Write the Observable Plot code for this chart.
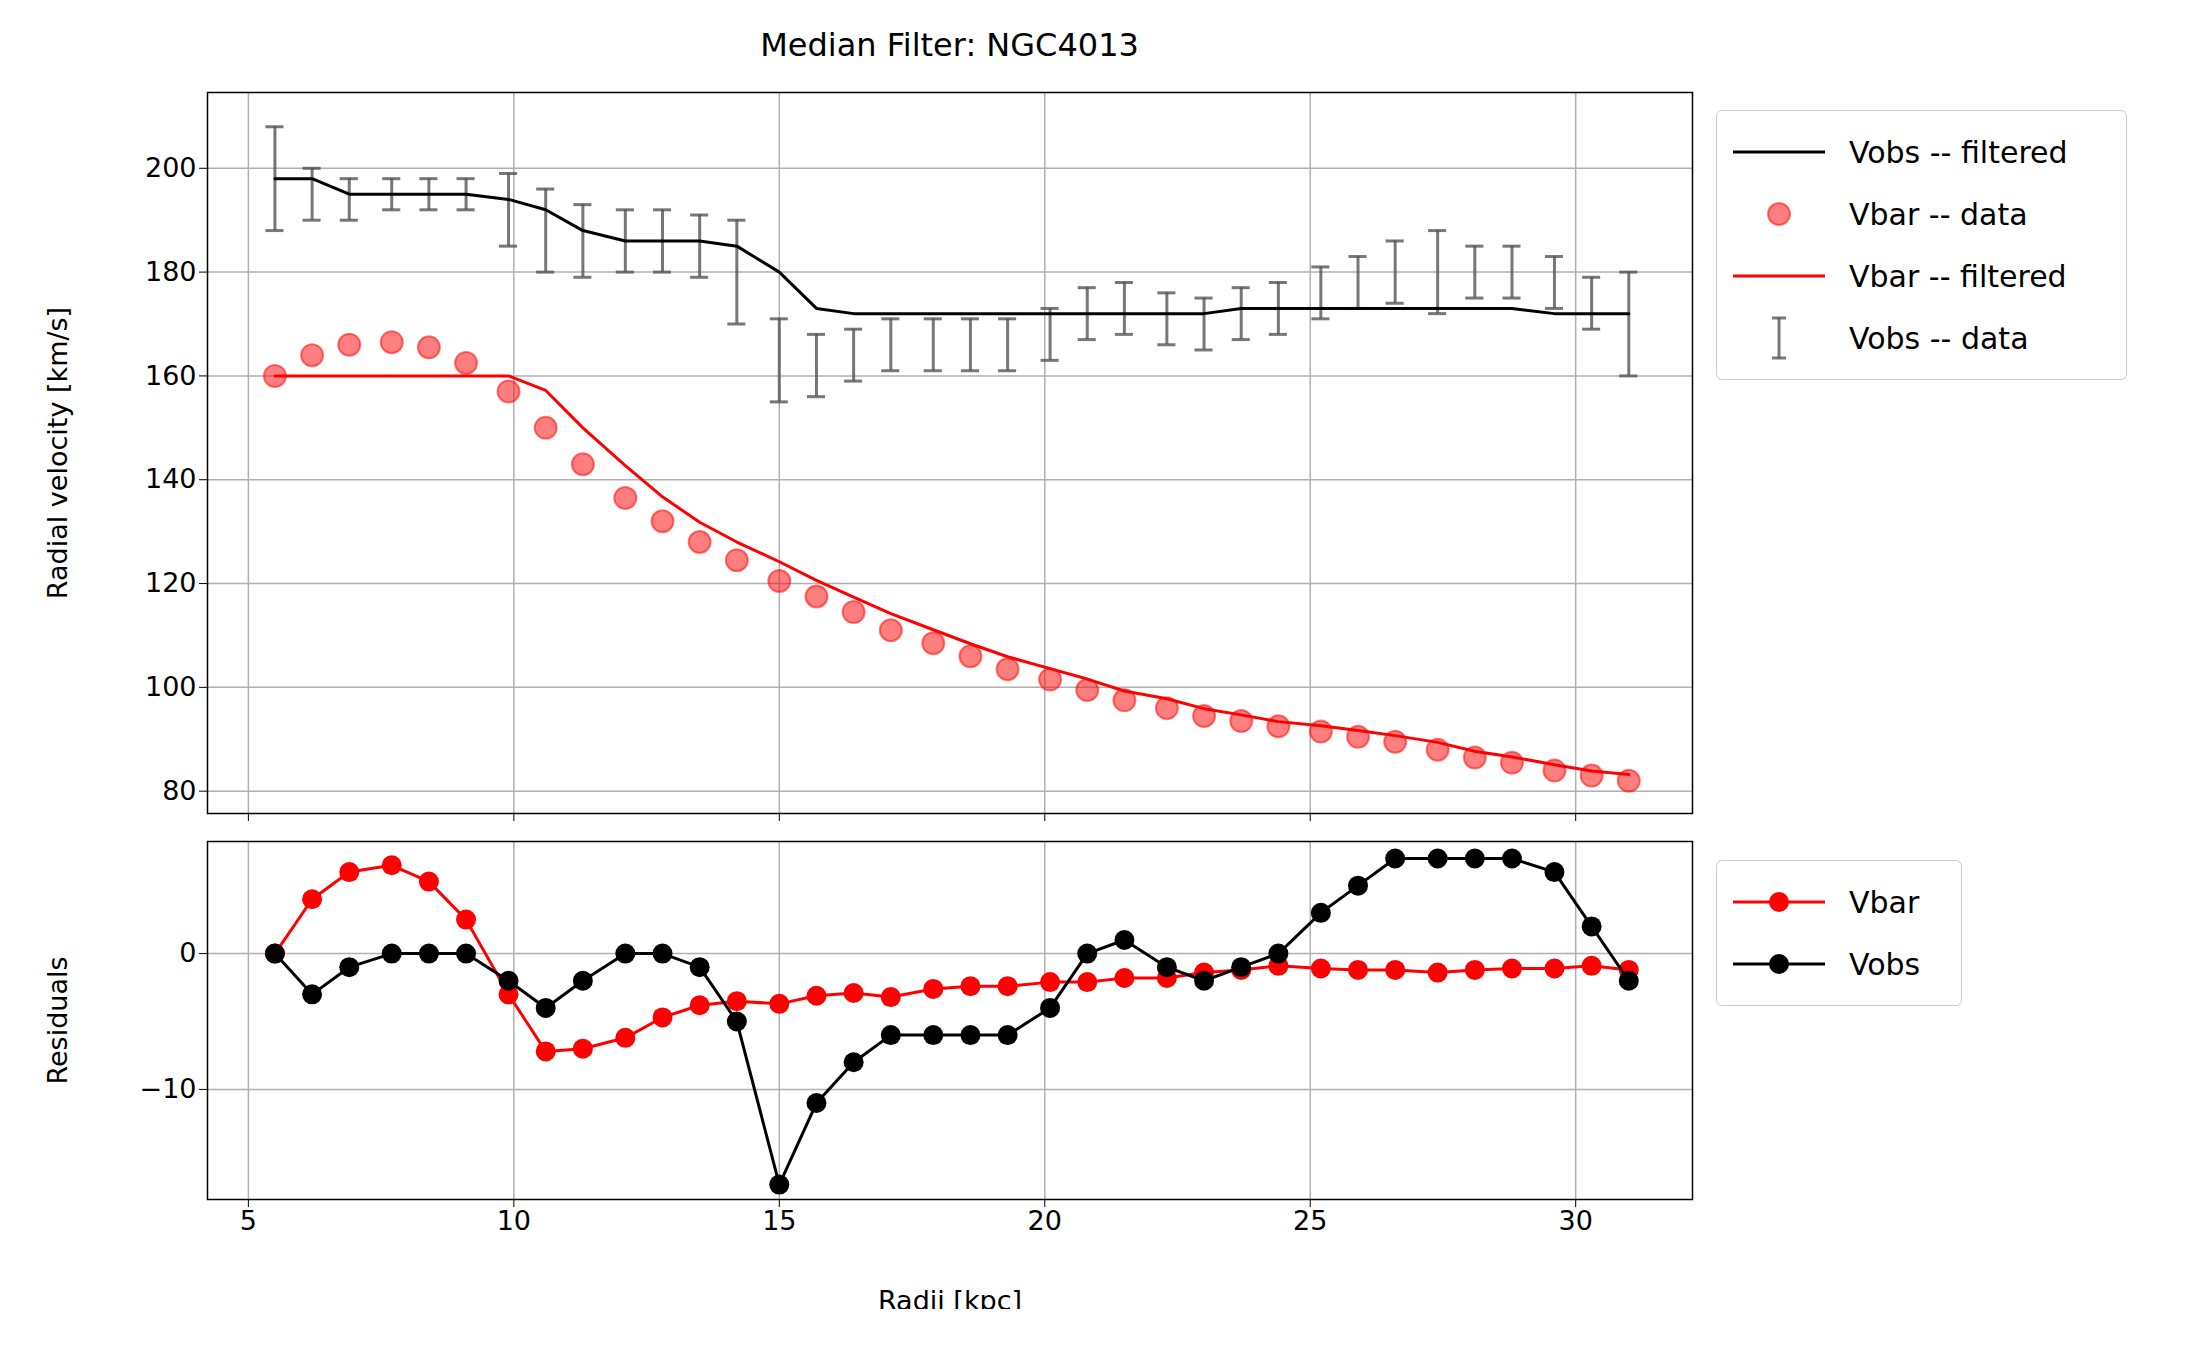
<!DOCTYPE html>
<html><head><meta charset="utf-8">
<script src="https://cdn.jsdelivr.net/npm/d3@7"></script>
<script src="https://cdn.jsdelivr.net/npm/@observablehq/plot@0.6"></script>
<style>
body{margin:0;background:#fff;font-family:"DejaVu Sans",sans-serif;}
#wrap{position:relative;width:2197px;height:1361px;}
#wrap>div.p{position:absolute;left:0;}
.title{position:absolute;left:207px;width:1485px;text-align:center;top:26px;font-size:32px;}
.leg{position:absolute;border:1.5px solid #ccc;border-radius:6px;background:#fff;font-size:30px;padding:10px 12px;}
.leg div{display:flex;align-items:center;height:62px;}
.leg svg{margin-right:20px;}
svg text{font-size:27px;}
</style></head><body>
<div id="wrap">
<div class="title">Median Filter: NGC4013</div>
<div class="p" id="top" style="top:0"></div>
<div class="p" id="bot" style="top:830px"></div>
<div class="leg" style="left:1716px;top:110px;width:385px;">
 <div><svg width="100" height="20"><line x1="4" x2="96" y1="10" y2="10" stroke="black" stroke-width="3"/></svg>Vobs -- filtered</div>
 <div><svg width="100" height="30"><circle cx="50" cy="15" r="11" fill="red" fill-opacity="0.5" stroke="red" stroke-opacity="0.5" stroke-width="2"/></svg>Vbar -- data</div>
 <div><svg width="100" height="20"><line x1="4" x2="96" y1="10" y2="10" stroke="red" stroke-width="3"/></svg>Vbar -- filtered</div>
 <div><svg width="100" height="44"><g stroke="#555" stroke-opacity="0.8" stroke-width="3"><line x1="50" x2="50" y1="2" y2="42"/><line x1="43" x2="57" y1="2" y2="2"/><line x1="43" x2="57" y1="42" y2="42"/></g></svg>Vobs -- data</div>
</div>
<div class="leg" style="left:1716px;top:860px;width:220px;">
 <div><svg width="100" height="30"><line x1="4" x2="96" y1="15" y2="15" stroke="red" stroke-width="3"/><circle cx="50" cy="15" r="10" fill="red"/></svg>Vbar</div>
 <div><svg width="100" height="30"><line x1="4" x2="96" y1="15" y2="15" stroke="black" stroke-width="3"/><circle cx="50" cy="15" r="10" fill="black"/></svg>Vobs</div>
</div>
</div>
<script>
const radii = [5.5,6.2,6.9,7.7,8.4,9.1,9.9,10.6,11.3,12.1,12.8,13.5,14.2,15.0,15.7,16.4,17.1,17.9,18.6,19.3,20.1,20.8,21.5,22.3,23.0,23.7,24.4,25.2,25.9,26.6,27.4,28.1,28.8,29.6,30.3,31.0];
const vobsFiltered = [198,198,195,195,195,195,194,192,188,186,186,186,185,180,173,172,172,172,172,172,172,172,172,172,172,173,173,173,173,173,173,173,173,172,172,172];
const vobsData = [198,195,194,195,195,195,192,188,186,186,186,185,180,163,162,164,166,166,166,166,168,172,173,171,170,172,173,176,178,180,180,180,180,178,174,170];
const vobsErr = [10,5,4,3,3,3,7,8,7,6,6,6,10,8,6,5,5,5,5,5,5,5,5,5,5,5,5,5,5,6,8,5,5,5,5,10];
const vbarData = [160,164,166,166.5,165.5,162.5,157,150,143,136.5,132,128,124.5,120.5,117.5,114.5,111,108.5,106,103.5,101.5,99.5,97.5,96,94.5,93.5,92.5,91.5,90.5,89.5,88,86.5,85.5,84,83,82];
const vbarFiltered = [160,160,160,160,160,160,160,157.2,150,142.7,136.7,131.8,128,124.2,120.6,117.4,114.2,111.1,108.4,105.9,103.6,101.6,99.3,97.8,95.9,94.7,93.4,92.6,91.7,90.7,89.4,87.7,86.6,85.1,83.9,83.2];
const resVbar = [0,4,6,6.5,5.3,2.5,-3,-7.2,-7,-6.2,-4.7,-3.8,-3.5,-3.7,-3.1,-2.9,-3.2,-2.6,-2.4,-2.4,-2.1,-2.1,-1.8,-1.8,-1.4,-1.2,-0.9,-1.1,-1.2,-1.2,-1.4,-1.2,-1.1,-1.1,-0.9,-1.2];
const resVobs = [0,-3,-1,0,0,0,-2,-4,-2,0,0,-1,-5,-17,-11,-8,-6,-6,-6,-6,-4,0,1,-1,-2,-1,0,3,5,7,7,7,7,6,2,-2];

const rows = radii.map((r,i)=>({r, vf:vobsFiltered[i], vd:vobsData[i], lo:vobsData[i]-vobsErr[i], hi:vobsData[i]+vobsErr[i],
  bd:vbarData[i], bf:vbarFiltered[i], rb:resVbar[i], ro:resVobs[i]}));
const xdom = [4.23, 32.2];
const xt = [5,10,15,20,25,30];
const common = {width:1740, marginLeft:207, marginRight:48, style:{fontSize:"27px", fontFamily:"DejaVu Sans, sans-serif", color:"black"}};
const err = {stroke:"#555", strokeOpacity:0.8, strokeWidth:3};

document.getElementById("top").append(Plot.plot({
  ...common, height:821, marginTop:92, marginBottom:8,
  x:{domain:xdom, ticks:xt, tickFormat:()=>"", tickSize:8, label:null},
  y:{domain:[75.7,214.6], ticks:[80,100,120,140,160,180,200], tickSize:8, label:"Radial velocity [km/s]", labelAnchor:"center", labelArrow:"none", labelOffset:160},
  marks:[
    Plot.gridX(xt,{stroke:"#b0b0b0", strokeOpacity:1, strokeWidth:1.5}),
    Plot.gridY([80,100,120,140,160,180,200],{stroke:"#b0b0b0", strokeOpacity:1, strokeWidth:1.5}),
    Plot.ruleX(rows,{x:"r", y1:"lo", y2:"hi", ...err}),
    Plot.ruleY(rows,{y:"lo", x1:d=>d.r-0.17, x2:d=>d.r+0.17, ...err}),
    Plot.ruleY(rows,{y:"hi", x1:d=>d.r-0.17, x2:d=>d.r+0.17, ...err}),
    Plot.line(rows,{x:"r", y:"vf", stroke:"black", strokeWidth:3}),
    Plot.dot(rows,{x:"r", y:"bd", r:11, fill:"red", fillOpacity:0.5, stroke:"red", strokeOpacity:0.5, strokeWidth:2}),
    Plot.line(rows,{x:"r", y:"bf", stroke:"red", strokeWidth:3}),
    Plot.frame({stroke:"black", strokeWidth:1.5})
  ]
}));

document.getElementById("bot").append(Plot.plot({
  ...common, height:479, marginTop:11, marginBottom:110,
  x:{domain:xdom, ticks:xt, tickSize:8, label:"Radii [kpc]", labelAnchor:"center", labelArrow:"none", labelOffset:110},
  y:{domain:[-18.1,8.25], ticks:[-10,0], tickSize:8, label:"Residuals", labelAnchor:"center", labelArrow:"none", labelOffset:160, tickFormat:d=>d<0?"\u2212"+(-d):d},
  marks:[
    Plot.gridX(xt,{stroke:"#b0b0b0", strokeOpacity:1, strokeWidth:1.5}),
    Plot.gridY([-10,0],{stroke:"#b0b0b0", strokeOpacity:1, strokeWidth:1.5}),
    Plot.line(rows,{x:"r", y:"rb", stroke:"red", strokeWidth:3}),
    Plot.dot(rows,{x:"r", y:"rb", r:10, fill:"red"}),
    Plot.line(rows,{x:"r", y:"ro", stroke:"black", strokeWidth:3}),
    Plot.dot(rows,{x:"r", y:"ro", r:10, fill:"black"}),
    Plot.frame({stroke:"black", strokeWidth:1.5})
  ]
}));
</script>
</body></html>
